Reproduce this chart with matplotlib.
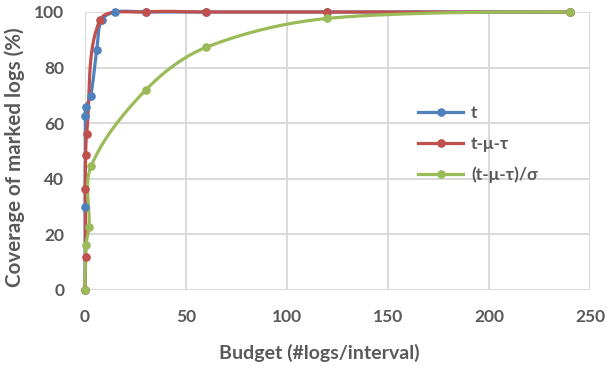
import numpy as np
import matplotlib
matplotlib.use("Agg")
import matplotlib.pyplot as plt

# ---- data ----
t_x = [0, 0.1, 0.2, 0.4, 2.8, 5.8, 8.2, 15, 30, 60, 120, 240]
t_y = [0, 29.8, 62.5, 65.8, 69.7, 86.3, 97.1, 100, 100, 100, 100, 100]

tmt_x = [0, 0.3, 0.1, 0.3, 0.8, 7.6, 30, 60, 120, 240]
tmt_y = [0, 12.0, 36.3, 48.4, 56.1, 97.3, 100, 100, 100, 100]

norm_x = [0, 0.5, 2, 3, 30, 60, 120, 240]
norm_y = [0, 16.2, 22.6, 44.5, 71.9, 87.3, 97.7, 100]

labels = ["t", "t-\u03bc-\u03c4", "(t-\u03bc-\u03c4)/\u03c3"]
colors = ["#4F81BD", "#C0504D", "#9BBB59"]
x_ticks = [0, 50, 100, 150, 200, 250]
y_ticks = [0, 20, 40, 60, 80, 100]

W, H = 607, 368
L, R, T, B = 85, 590, 12, 290
XMAX, YMAX = 250, 100


def smooth(xs, ys, n=40):
    """Excel-like smoothed line: Bezier with chord-length weighted tangents (in pixel space)."""
    sx = (R - L) / XMAX
    sy = (B - T) / YMAX
    P = np.column_stack([np.asarray(xs, float) * sx, np.asarray(ys, float) * sy])
    m = len(P)
    d = np.hypot(*np.diff(P, axis=0).T)
    tang = np.zeros_like(P)
    for i in range(1, m - 1):
        tang[i] = (P[i + 1] - P[i - 1]) / max(d[i - 1] + d[i], 1e-9)
    out = [P[0]]
    tt = np.linspace(0, 1, n)[1:, None]
    for i in range(m - 1):
        p1, p2 = P[i], P[i + 1]
        c1 = p1 + tang[i] * d[i] / 3.0
        c2 = p2 - tang[i + 1] * d[i] / 3.0
        seg = ((1 - tt) ** 3) * p1 + 3 * ((1 - tt) ** 2) * tt * c1 + 3 * (1 - tt) * tt ** 2 * c2 + tt ** 3 * p2
        out.extend(seg)
    out = np.array(out)
    return out[:, 0] / sx, out[:, 1] / sy


plt.rcParams['font.family'] = ['Lato', 'DejaVu Sans']
txt = "#595959"
fs = 12.5

fig = plt.figure(figsize=(W / 100, H / 100), dpi=100)
ax = fig.add_axes([L / W, 1 - B / H, (R - L) / W, (B - T) / H])

series = [(t_x, t_y), (tmt_x, tmt_y), (norm_x, norm_y)]
for (xs, ys), c, lab in zip(series, colors, labels):
    sxv, syv = smooth(xs, ys)
    ax.plot(sxv, syv, color=c, lw=2.3, solid_capstyle='round', clip_on=False, zorder=3)
    ax.plot(xs, ys, 'o', color=c, ms=5.2, clip_on=False, zorder=4)
    ax.plot([], [], color=c, lw=2.3, marker='o', ms=5.2, label=lab)

ax.set_xlim(0, XMAX)
ax.set_ylim(0, YMAX)
ax.set_xticks(x_ticks)
ax.set_yticks(y_ticks)
for s in ax.spines.values():
    s.set_visible(False)
ax.grid(True, color="#D9D9D9", lw=1.4)
ax.set_axisbelow(True)
ax.tick_params(length=0, labelsize=fs, labelcolor=txt)
ax.tick_params(axis='y', pad=15)
ax.tick_params(axis='x', pad=14)
for lab in ax.get_xticklabels() + ax.get_yticklabels():
    lab.set_fontweight('bold')

ax.set_xlabel("Budget (#logs/interval)", fontsize=14, fontweight='bold', color=txt)
ax.set_ylabel("Coverage of marked logs (%)", fontsize=14.8, fontweight='bold', color=txt)
ax.xaxis.set_label_coords((319 - L) / (R - L), (B - 353) / (B - T))
ax.xaxis.label.set_va('center')
ax.yaxis.set_label_coords((15 - L) / (R - L), (B - 157) / (B - T))
ax.yaxis.label.set_va('center')

handles, labs = ax.get_legend_handles_labels()
leg = fig.legend(handles, labs, loc='upper left', bbox_to_anchor=(418 / W, 1 - 105 / H),
                 frameon=False, borderpad=0, borderaxespad=0, handlelength=2.6,
                 handletextpad=0.45, labelspacing=0.85, prop={'size': fs, 'weight': 'bold'})
for t in leg.get_texts():
    t.set_color(txt)

fig.savefig("out.png", dpi=100)
